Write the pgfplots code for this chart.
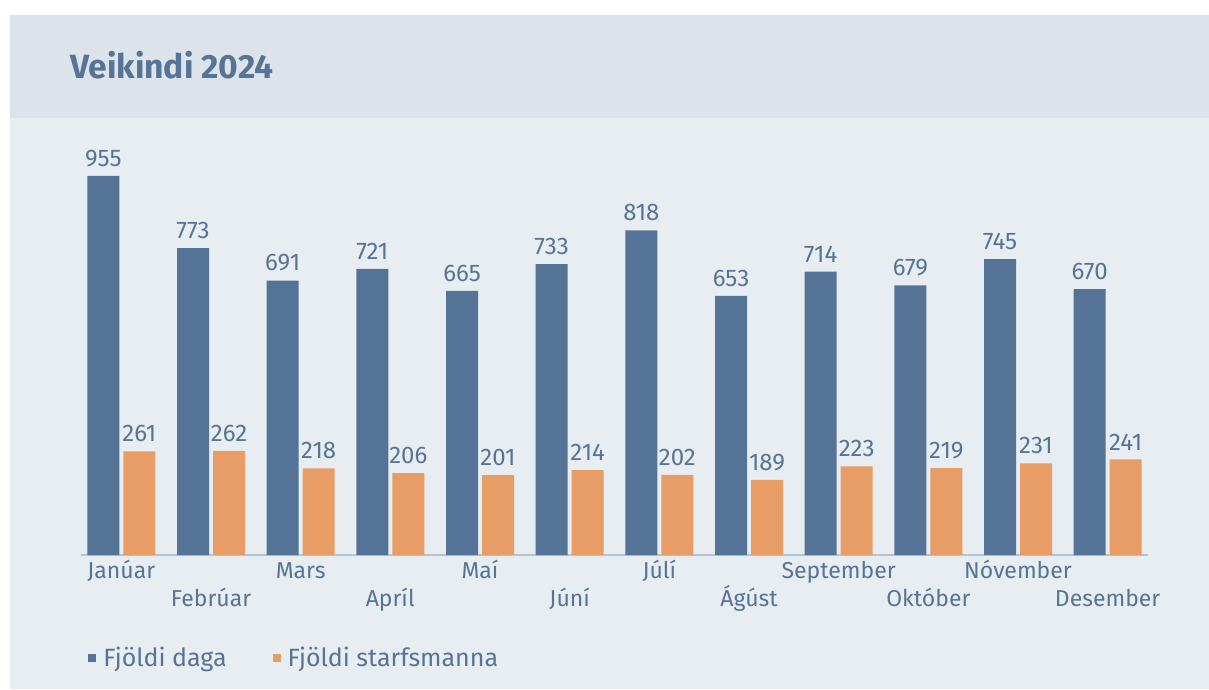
\documentclass[border=0pt]{standalone}
\usepackage{pgfplots}
\pgfplotsset{compat=1.18}
\usepackage{fontspec}
\setmainfont{Fira Sans}
\definecolor{cblue}{RGB}{85,115,150}
\definecolor{corange}{RGB}{232,156,102}
\definecolor{ctext}{RGB}{86,116,152}
\definecolor{hdr}{RGB}{220,227,235}
\definecolor{bodybg}{RGB}{232,237,242}
\definecolor{axln}{RGB}{180,196,212}
\newcommand{\rA}[1]{\raisebox{0pt}[0pt][0pt]{#1}}
\newcommand{\rB}[1]{\raisebox{-28pt}[0pt][0pt]{#1}}
\begin{document}
\begin{tikzpicture}[x=1pt,y=1pt]
\useasboundingbox (0,0) rectangle (1209,689);
\fill[white] (0,0) rectangle (1209,689);
\fill[bodybg] (10,0) rectangle (1209,674);
\fill[hdr] (10,571) rectangle (1209,674);
\node[anchor=base west, font=\bfseries\fontsize{33.6}{40}\selectfont, text=ctext, inner sep=0pt] at (70,610) {Veikindi 2024};
\begin{axis}[at={(81pt,134pt)}, anchor=south west, scale only axis,
  width=1067pt, height=397pt,
  xmin=-0.45, xmax=11.45, ymin=0, ymax=1000,
  axis x line=bottom, axis y line=none,
  x axis line style={draw=axln, line width=1.5pt, -},
  ytick=\empty, xtick={0,...,11}, major tick length=0pt,
  xticklabels={\rA{Janúar},\rB{Febrúar},\rA{Mars},\rB{Apríl},\rA{Maí},\rB{Júní},\rA{Júlí},\rB{Ágúst},\rA{September},\rB{Október},\rA{Nóvember},\rB{Desember}},
  xticklabel style={anchor=north, inner sep=0pt, yshift=-23pt, font=\fontsize{23}{27}\selectfont, text=ctext},
  ybar=4pt, bar width=32pt,
  /pgf/number format/assume math mode=true,
  nodes near coords,
  nodes near coords style={font=\fontsize{24}{28}\selectfont, text=ctext, inner sep=0pt, anchor=south, yshift=9pt},
  clip=false,
  legend style={at={(0.0066,-0.259)}, anchor=west, draw=none, fill=none, inner sep=0pt,
    font=\fontsize{25}{30}\selectfont, text=ctext, legend columns=2,
    /tikz/every odd column/.append style={column sep=5pt},
    /tikz/every even column/.append style={column sep=44pt}},
  legend image code/.code={\fill (0pt,-4pt) rectangle (8pt,4pt);},
]
\addplot[fill=cblue, draw=none] coordinates {(0,955) (1,773) (2,691) (3,721) (4,665) (5,733) (6,818) (7,653) (8,714) (9,679) (10,745) (11,670)};
\addplot[fill=corange, draw=none] coordinates {(0,261) (1,262) (2,218) (3,206) (4,201) (5,214) (6,202) (7,189) (8,223) (9,219) (10,231) (11,241)};
\legend{Fjöldi daga, Fjöldi starfsmanna}
\end{axis}
\end{tikzpicture}
\end{document}
